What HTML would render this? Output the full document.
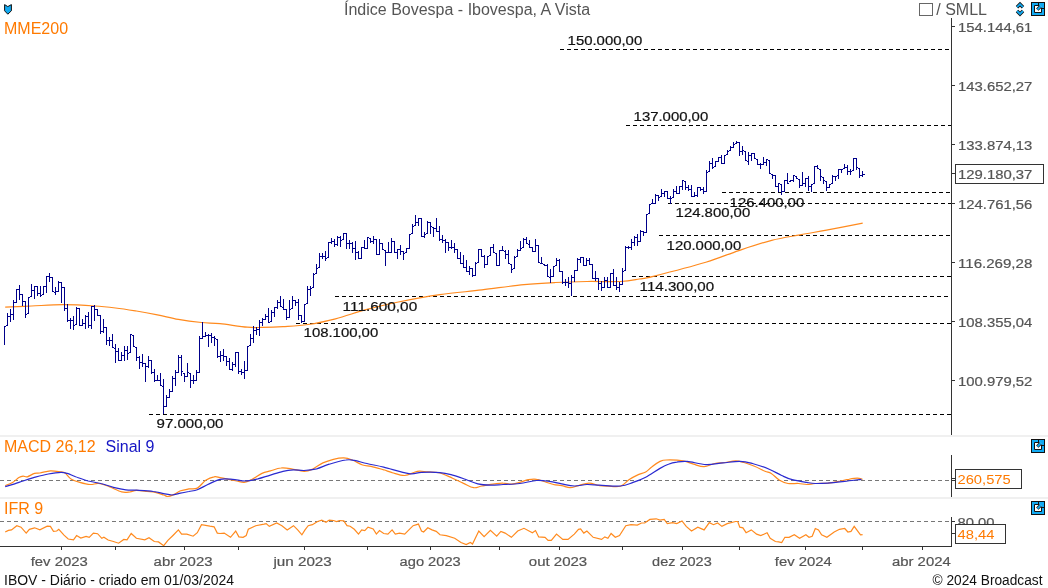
<!DOCTYPE html>
<html><head><meta charset="utf-8"><style>
html,body{margin:0;padding:0;background:#fff;width:1048px;height:588px;overflow:hidden}
svg{display:block;font-family:"Liberation Sans", sans-serif;will-change:transform}
</style></head><body>
<svg width="1048" height="588" viewBox="0 0 1048 588">
<rect x="0" y="435" width="1048" height="2" fill="#f0f0f0"/>
<rect x="0" y="497" width="1048" height="2" fill="#f0f0f0"/>
<text x="344" y="14.6" font-size="16" fill="#555">Índice Bovespa - Ibovespa, A Vista</text>
<text x="4.0" y="34" font-size="16" fill="#ff7a00">MME200</text>
<rect x="919.5" y="3.5" width="13" height="12" fill="none" stroke="#666" stroke-width="1"/>
<text x="936.3" y="15" font-size="16" fill="#555">/ SMLL</text>
<path d="M951.5 18 V435" stroke="#333" stroke-width="1" fill="none"/>
<path d="M951 26.5 H955" stroke="#333" stroke-width="1"/>
<text x="958" y="31.9" font-size="12.5" fill="#555" textLength="74.3" lengthAdjust="spacingAndGlyphs" stroke="#555" stroke-width="0.2">154.144,61</text>
<path d="M951 85.5 H955" stroke="#333" stroke-width="1"/>
<text x="958" y="90.9" font-size="12.5" fill="#555" textLength="74.3" lengthAdjust="spacingAndGlyphs" stroke="#555" stroke-width="0.2">143.652,27</text>
<path d="M951 144.5 H955" stroke="#333" stroke-width="1"/>
<text x="958" y="149.9" font-size="12.5" fill="#555" textLength="74.3" lengthAdjust="spacingAndGlyphs" stroke="#555" stroke-width="0.2">133.874,13</text>
<path d="M951 203.5 H955" stroke="#333" stroke-width="1"/>
<text x="958" y="208.8" font-size="12.5" fill="#555" textLength="74.3" lengthAdjust="spacingAndGlyphs" stroke="#555" stroke-width="0.2">124.761,56</text>
<path d="M951 262.5 H955" stroke="#333" stroke-width="1"/>
<text x="958" y="267.8" font-size="12.5" fill="#555" textLength="74.3" lengthAdjust="spacingAndGlyphs" stroke="#555" stroke-width="0.2">116.269,28</text>
<path d="M951 321.5 H955" stroke="#333" stroke-width="1"/>
<text x="958" y="326.8" font-size="12.5" fill="#555" textLength="74.3" lengthAdjust="spacingAndGlyphs" stroke="#555" stroke-width="0.2">108.355,04</text>
<path d="M951 380.5 H955" stroke="#333" stroke-width="1"/>
<text x="958" y="385.8" font-size="12.5" fill="#555" textLength="74.3" lengthAdjust="spacingAndGlyphs" stroke="#555" stroke-width="0.2">100.979,52</text>
<path d="M560 49.5 H951" stroke="#000" stroke-width="1" stroke-dasharray="4 3"/>
<path d="M626 125.5 H951" stroke="#000" stroke-width="1" stroke-dasharray="4 3"/>
<path d="M722 192.5 H951" stroke="#000" stroke-width="1" stroke-dasharray="4 3"/>
<path d="M668 203.5 H951" stroke="#000" stroke-width="1" stroke-dasharray="4 3"/>
<path d="M659 235.5 H951" stroke="#000" stroke-width="1" stroke-dasharray="4 3"/>
<path d="M632 276.5 H951" stroke="#000" stroke-width="1" stroke-dasharray="4 3"/>
<path d="M335 296.5 H951" stroke="#000" stroke-width="1" stroke-dasharray="4 3"/>
<path d="M296 323.5 H951" stroke="#000" stroke-width="1" stroke-dasharray="4 3"/>
<path d="M149 414.5 H951" stroke="#000" stroke-width="1" stroke-dasharray="4 3"/>
<path d="M5.2 307.2 C9.6 307.0 21.9 306.4 31.5 306.0 C41.1 305.6 52.5 304.7 63.0 304.7 C73.5 304.7 85.8 305.4 94.5 306.0 C103.2 306.6 108.5 307.2 115.5 308.0 C122.5 308.8 129.4 309.9 136.4 311.0 C143.4 312.1 150.4 313.4 157.4 314.8 C164.4 316.2 171.1 318.1 178.4 319.4 C185.8 320.7 194.6 321.8 201.5 322.5 C208.4 323.2 212.4 322.9 220.0 323.7 C227.6 324.5 240.3 326.6 247.3 327.2 C254.3 327.8 256.1 327.5 262.0 327.4 C267.9 327.3 275.3 327.1 283.0 326.6 C290.7 326.1 299.2 325.8 308.0 324.5 C316.8 323.2 325.7 321.3 335.5 318.8 C345.3 316.3 356.5 312.2 367.0 309.4 C377.5 306.6 386.2 304.4 398.4 302.0 C410.6 299.6 426.1 296.7 440.0 294.7 C453.9 292.7 468.0 291.6 482.0 289.9 C496.0 288.2 511.8 285.8 524.0 284.6 C536.2 283.4 544.9 283.0 555.4 282.5 C565.9 282.0 576.1 281.7 587.0 281.5 C597.9 281.3 611.8 281.9 620.5 281.5 C629.2 281.1 633.9 279.9 639.4 279.0 C644.9 278.1 642.1 279.1 653.2 276.3 C664.3 273.5 691.5 266.5 705.8 262.2 C720.1 257.9 727.8 254.2 738.8 250.6 C749.8 246.9 761.5 242.9 771.7 240.3 C781.9 237.7 791.1 236.5 800.2 234.8 C809.3 233.1 816.1 232.1 826.5 230.2 C836.9 228.3 856.7 224.4 862.7 223.2" fill="none" stroke="#ff8a1e" stroke-width="1.2"/>
<path d="M4.5 326 V345 M5 326.5 H6 M7.5 313 V326 M6 325.5 H7 M8 316.5 H9 M10.5 309 V322 M9 316.5 H10 M11 314.5 H12 M13.5 300 V320 M12 314.5 H13 M14 302.5 H15 M16.5 289 V303 M15 302.5 H16 M17 289.5 H18 M19.5 285 V300 M18 289.5 H19 M20 294.5 H21 M22.5 294 V306 M21 294.5 H22 M23 301.5 H24 M25.5 301 V318 M24 301.5 H25 M26 314.5 H27 M28.5 297 V314 M27 313.5 H28 M29 297.5 H30 M31.5 284 V297 M30 296.5 H31 M32 290.5 H33 M34.5 286 V299 M33 290.5 H34 M35 286.5 H36 M37.5 286 V296 M36 286.5 H37 M38 293.5 H39 M40.5 286 V297 M39 293.5 H40 M41 295.5 H42 M43.5 286 V295 M42 294.5 H43 M44 286.5 H45 M46.5 276 V293 M45 286.5 H46 M47 276.5 H48 M49.5 273 V282 M48 276.5 H49 M50 277.5 H51 M52.5 277 V292 M51 277.5 H52 M53 291.5 H54 M55.5 287 V295 M54 292.5 H55 M56 291.5 H57 M58.5 281 V292 M57 291.5 H58 M59 282.5 H60 M61.5 282 V303 M60 282.5 H61 M62 287.5 H63 M64.5 287 V311 M63 287.5 H64 M65 308.5 H66 M67.5 304 V322 M66 308.5 H67 M68 320.5 H69 M70.5 318 V329 M69 320.5 H70 M71 320.5 H72 M73.5 316 V330 M72 320.5 H73 M74 325.5 H75 M76.5 307 V325 M75 324.5 H76 M77 308.5 H78 M79.5 308 V326 M78 308.5 H79 M80 325.5 H81 M82.5 319 V326 M81 325.5 H82 M83 323.5 H84 M85.5 315 V329 M84 323.5 H85 M86 316.5 H87 M88.5 312 V328 M87 316.5 H88 M89 325.5 H90 M91.5 306 V329 M90 325.5 H91 M92 306.5 H93 M94.5 305 V321 M93 306.5 H94 M95 309.5 H96 M97.5 309 V316 M96 309.5 H97 M98 315.5 H99 M100.5 315 V334 M99 315.5 H100 M101 331.5 H102 M103.5 319 V333 M102 331.5 H103 M104 327.5 H105 M106.5 327 V345 M105 327.5 H106 M107 340.5 H108 M109.5 337 V346 M108 340.5 H109 M110 340.5 H111 M112.5 334 V348 M111 340.5 H112 M113 347.5 H114 M115.5 344 V363 M114 348.5 H115 M116 351.5 H117 M118.5 348 V361 M117 351.5 H118 M119 360.5 H120 M121.5 352 V361 M120 360.5 H121 M122 355.5 H123 M124.5 346 V361 M123 355.5 H124 M125 350.5 H126 M127.5 346 V360 M126 350.5 H127 M128 353.5 H129 M130.5 334 V353 M129 352.5 H130 M131 334.5 H132 M133.5 335 V347 M132 335.5 H133 M134 346.5 H135 M136.5 347 V361 M135 347.5 H136 M137 357.5 H138 M139.5 356 V369 M138 357.5 H139 M140 362.5 H141 M142.5 354 V367 M141 362.5 H142 M143 363.5 H144 M145.5 363 V382 M144 363.5 H145 M146 366.5 H147 M148.5 356 V368 M147 366.5 H148 M149 360.5 H150 M151.5 360 V374 M150 360.5 H151 M152 372.5 H153 M154.5 369 V382 M153 372.5 H154 M155 380.5 H156 M157.5 375 V381 M156 380.5 H157 M158 380.5 H159 M160.5 373 V386 M159 380.5 H160 M161 385.5 H162 M163.5 379 V414 M162 386.5 H163 M164 406.5 H165 M166.5 395 V407 M165 406.5 H166 M167 397.5 H168 M169.5 389 V398 M168 397.5 H169 M170 391.5 H171 M172.5 376 V392 M171 391.5 H172 M173 378.5 H174 M175.5 370 V386 M174 378.5 H175 M176 372.5 H177 M178.5 355 V373 M177 372.5 H178 M179 357.5 H180 M181.5 355 V376 M180 357.5 H181 M182 371.5 H183 M184.5 373 V382 M183 373.5 H184 M185 376.5 H186 M187.5 363 V377 M186 376.5 H187 M188 372.5 H189 M190.5 373 V388 M189 373.5 H190 M191 380.5 H192 M193.5 375 V384 M192 380.5 H193 M194 380.5 H195 M196.5 370 V381 M195 380.5 H196 M197 372.5 H198 M199.5 336 V373 M198 372.5 H199 M200 338.5 H201 M202.5 322 V339 M201 338.5 H202 M203 336.5 H204 M205.5 332 V337 M204 336.5 H205 M206 335.5 H207 M208.5 334 V347 M207 335.5 H208 M209 335.5 H210 M211.5 333 V343 M210 335.5 H211 M212 337.5 H213 M214.5 336 V346 M213 337.5 H214 M215 338.5 H216 M217.5 339 V358 M216 339.5 H217 M218 356.5 H219 M220.5 351 V362 M219 356.5 H220 M221 355.5 H222 M223.5 349 V361 M222 355.5 H223 M224 356.5 H225 M226.5 356 V366 M225 356.5 H226 M227 361.5 H228 M229.5 358 V370 M228 361.5 H229 M230 369.5 H231 M232.5 362 V371 M231 369.5 H232 M233 364.5 H234 M235.5 352 V367 M234 364.5 H235 M236 352.5 H237 M238.5 352 V374 M237 352.5 H238 M239 371.5 H240 M241.5 369 V375 M240 371.5 H241 M242 372.5 H243 M244.5 361 V379 M243 372.5 H244 M245 370.5 H246 M247.5 346 V371 M246 370.5 H247 M248 346.5 H249 M250.5 334 V346 M249 345.5 H250 M251 338.5 H252 M253.5 326 V343 M252 338.5 H253 M254 330.5 H255 M256.5 327 V335 M255 330.5 H256 M257 329.5 H258 M259.5 320 V336 M258 329.5 H259 M260 322.5 H261 M262.5 318 V326 M261 322.5 H262 M263 319.5 H264 M265.5 314 V320 M264 319.5 H265 M266 316.5 H267 M268.5 308 V323 M267 316.5 H268 M269 322.5 H270 M271.5 310 V322 M270 321.5 H271 M272 312.5 H273 M274.5 307 V317 M273 312.5 H274 M275 307.5 H276 M277.5 300 V309 M276 307.5 H277 M278 302.5 H279 M280.5 296 V307 M279 302.5 H280 M281 306.5 H282 M283.5 299 V310 M282 307.5 H283 M284 309.5 H285 M286.5 309 V320 M285 309.5 H286 M287 317.5 H288 M289.5 300 V318 M288 317.5 H289 M290 309.5 H291 M292.5 296 V309 M291 308.5 H292 M293 300.5 H294 M295.5 300 V306 M294 300.5 H295 M296 302.5 H297 M298.5 299 V320 M297 302.5 H298 M299 315.5 H300 M301.5 315 V323 M300 315.5 H301 M302 321.5 H303 M304.5 304 V322 M303 321.5 H304 M305 304.5 H306 M307.5 286 V304 M306 303.5 H307 M308 289.5 H309 M310.5 286 V296 M309 289.5 H310 M311 288.5 H312 M313.5 273 V288 M312 287.5 H313 M314 274.5 H315 M316.5 264 V274 M315 273.5 H316 M317 268.5 H318 M319.5 253 V268 M318 267.5 H319 M320 256.5 H321 M322.5 253 V259 M321 256.5 H322 M323 256.5 H324 M325.5 251 V261 M324 256.5 H325 M326 258.5 H327 M328.5 242 V258 M327 257.5 H328 M329 242.5 H330 M331.5 238 V244 M330 242.5 H331 M332 241.5 H333 M334.5 239 V247 M333 241.5 H334 M335 244.5 H336 M337.5 236 V246 M336 244.5 H337 M338 237.5 H339 M340.5 236 V247 M339 237.5 H340 M341 240.5 H342 M343.5 233 V240 M342 239.5 H343 M344 233.5 H345 M346.5 233 V249 M345 233.5 H346 M347 243.5 H348 M349.5 240 V249 M348 243.5 H349 M350 243.5 H351 M352.5 242 V253 M351 243.5 H352 M353 248.5 H354 M355.5 241 V260 M354 248.5 H355 M356 252.5 H357 M358.5 251 V259 M357 252.5 H358 M359 258.5 H360 M361.5 247 V259 M360 258.5 H361 M362 247.5 H363 M364.5 240 V249 M363 247.5 H364 M365 248.5 H366 M367.5 237 V249 M366 248.5 H367 M368 237.5 H369 M370.5 238 V243 M369 238.5 H370 M371 241.5 H372 M373.5 236 V244 M372 241.5 H373 M374 239.5 H375 M376.5 239 V255 M375 239.5 H376 M377 254.5 H378 M379.5 239 V255 M378 254.5 H379 M380 243.5 H381 M382.5 243 V250 M381 243.5 H382 M383 249.5 H384 M385.5 250 V266 M384 250.5 H385 M386 252.5 H387 M388.5 242 V253 M387 252.5 H388 M389 252.5 H390 M391.5 238 V253 M390 252.5 H391 M392 241.5 H393 M394.5 241 V253 M393 241.5 H394 M395 252.5 H396 M397.5 249 V259 M396 252.5 H397 M398 249.5 H399 M400.5 245 V255 M399 249.5 H400 M401 251.5 H402 M403.5 251 V260 M402 251.5 H403 M404 253.5 H405 M406.5 248 V253 M405 252.5 H406 M407 248.5 H408 M409.5 234 V249 M408 248.5 H409 M410 234.5 H411 M412.5 224 V234 M411 233.5 H412 M413 226.5 H414 M415.5 215 V226 M414 225.5 H415 M416 222.5 H417 M418.5 218 V226 M417 222.5 H418 M419 218.5 H420 M421.5 218 V237 M420 218.5 H421 M422 236.5 H423 M424.5 232 V238 M423 236.5 H424 M425 234.5 H426 M427.5 221 V234 M426 233.5 H427 M428 222.5 H429 M430.5 222 V234 M429 222.5 H430 M431 226.5 H432 M433.5 227 V237 M432 227.5 H433 M434 228.5 H435 M436.5 218 V232 M435 228.5 H436 M437 231.5 H438 M439.5 226 V241 M438 231.5 H439 M440 239.5 H441 M442.5 235 V243 M441 239.5 H442 M443 240.5 H444 M445.5 239 V253 M444 240.5 H445 M446 242.5 H447 M448.5 242 V251 M447 242.5 H448 M449 247.5 H450 M451.5 240 V249 M450 247.5 H451 M452 247.5 H453 M454.5 243 V253 M453 247.5 H454 M455 249.5 H456 M457.5 249 V259 M456 249.5 H457 M458 258.5 H459 M460.5 252 V264 M459 258.5 H460 M461 263.5 H462 M463.5 255 V268 M462 263.5 H463 M464 267.5 H465 M466.5 260 V272 M465 267.5 H466 M467 271.5 H468 M469.5 266 V275 M468 271.5 H469 M470 268.5 H471 M472.5 268 V277 M471 268.5 H472 M473 275.5 H474 M475.5 262 V276 M474 275.5 H475 M476 263.5 H477 M478.5 249 V263 M477 262.5 H478 M479 249.5 H480 M481.5 249 V257 M480 249.5 H481 M482 256.5 H483 M484.5 255 V268 M483 256.5 H484 M485 264.5 H486 M487.5 256 V265 M486 264.5 H487 M488 256.5 H489 M490.5 247 V256 M489 255.5 H490 M491 247.5 H492 M493.5 244 V253 M492 247.5 H493 M494 252.5 H495 M496.5 253 V266 M495 253.5 H496 M497 265.5 H498 M499.5 250 V266 M498 265.5 H499 M500 250.5 H501 M502.5 246 V251 M501 250.5 H502 M503 250.5 H504 M505.5 250 V259 M504 251.5 H505 M506 254.5 H507 M508.5 250 V264 M507 254.5 H508 M509 263.5 H510 M511.5 264 V273 M510 264.5 H511 M512 269.5 H513 M514.5 256 V269 M513 268.5 H514 M515 257.5 H516 M517.5 249 V257 M516 256.5 H517 M518 250.5 H519 M520.5 241 V251 M519 250.5 H520 M521 248.5 H522 M523.5 238 V248 M522 247.5 H523 M524 239.5 H525 M526.5 237 V244 M525 239.5 H526 M527 243.5 H528 M529.5 240 V248 M528 244.5 H529 M530 247.5 H531 M532.5 247 V252 M531 247.5 H532 M533 251.5 H534 M535.5 239 V252 M534 251.5 H535 M536 245.5 H537 M538.5 245 V263 M537 245.5 H538 M539 262.5 H540 M541.5 257 V264 M540 263.5 H541 M542 263.5 H543 M544.5 264 V266 M543 264.5 H544 M545 265.5 H546 M547.5 264 V277 M546 265.5 H547 M548 276.5 H549 M550.5 269 V283 M549 277.5 H550 M551 276.5 H552 M553.5 266 V277 M552 276.5 H553 M554 266.5 H555 M556.5 258 V266 M555 265.5 H556 M557 260.5 H558 M559.5 259 V272 M558 260.5 H559 M560 271.5 H561 M562.5 271 V284 M561 271.5 H562 M563 282.5 H564 M565.5 279 V286 M564 282.5 H565 M566 282.5 H567 M568.5 277 V288 M567 282.5 H568 M569 283.5 H570 M571.5 275 V296 M570 283.5 H571 M572 277.5 H573 M574.5 270 V282 M573 277.5 H574 M575 270.5 H576 M577.5 258 V271 M576 270.5 H577 M578 259.5 H579 M580.5 257 V263 M579 259.5 H580 M581 257.5 H582 M583.5 257 V266 M582 257.5 H583 M584 265.5 H585 M586.5 258 V266 M585 265.5 H586 M587 260.5 H588 M589.5 258 V265 M588 260.5 H589 M590 264.5 H591 M592.5 264 V279 M591 264.5 H592 M593 278.5 H594 M595.5 271 V281 M594 278.5 H595 M596 278.5 H597 M598.5 278 V290 M597 278.5 H598 M599 283.5 H600 M601.5 281 V291 M600 283.5 H601 M602 287.5 H603 M604.5 277 V288 M603 287.5 H604 M605 280.5 H606 M607.5 277 V288 M606 280.5 H607 M608 287.5 H609 M610.5 273 V288 M609 287.5 H610 M611 273.5 H612 M613.5 269 V286 M612 273.5 H613 M614 285.5 H615 M616.5 277 V290 M615 285.5 H616 M617 287.5 H618 M619.5 282 V292 M618 287.5 H619 M620 284.5 H621 M622.5 268 V285 M621 284.5 H622 M623 271.5 H624 M625.5 246 V271 M624 270.5 H625 M626 247.5 H627 M628.5 246 V249 M627 247.5 H628 M629 247.5 H630 M631.5 239 V250 M630 247.5 H631 M632 242.5 H633 M634.5 236 V246 M633 242.5 H634 M635 237.5 H636 M637.5 234 V246 M636 237.5 H637 M638 241.5 H639 M640.5 230 V242 M639 241.5 H640 M641 231.5 H642 M643.5 231 V236 M642 231.5 H643 M644 232.5 H645 M646.5 214 V233 M645 232.5 H646 M647 214.5 H648 M649.5 204 V214 M648 213.5 H649 M650 204.5 H651 M652.5 199 V204 M651 203.5 H652 M653 203.5 H654 M655.5 194 V204 M654 203.5 H655 M656 195.5 H657 M658.5 195 V201 M657 195.5 H658 M659 197.5 H660 M661.5 189 V197 M660 196.5 H661 M662 193.5 H663 M664.5 191 V197 M663 193.5 H664 M665 191.5 H666 M667.5 191 V199 M666 191.5 H667 M668 198.5 H669 M670.5 196 V204 M669 198.5 H670 M671 198.5 H672 M673.5 189 V198 M672 197.5 H673 M674 191.5 H675 M676.5 186 V194 M675 191.5 H676 M677 193.5 H678 M679.5 186 V194 M678 193.5 H679 M680 186.5 H681 M682.5 180 V190 M681 186.5 H682 M683 180.5 H684 M685.5 181 V190 M684 181.5 H685 M686 187.5 H687 M688.5 185 V191 M687 187.5 H688 M689 189.5 H690 M691.5 185 V197 M690 189.5 H691 M692 196.5 H693 M694.5 192 V197 M693 196.5 H694 M695 195.5 H696 M697.5 187 V197 M696 195.5 H697 M698 187.5 H699 M700.5 187 V191 M699 187.5 H700 M701 189.5 H702 M703.5 187 V194 M702 189.5 H703 M704 191.5 H705 M706.5 170 V192 M705 191.5 H706 M707 172.5 H708 M709.5 161 V172 M708 171.5 H709 M710 163.5 H711 M712.5 158 V169 M711 163.5 H712 M713 167.5 H714 M715.5 161 V167 M714 166.5 H715 M716 161.5 H717 M718.5 157 V162 M717 161.5 H718 M719 157.5 H720 M721.5 155 V164 M720 157.5 H721 M722 163.5 H723 M724.5 155 V164 M723 163.5 H724 M725 155.5 H726 M727.5 150 V155 M726 154.5 H727 M728 151.5 H729 M730.5 146 V151 M729 150.5 H730 M731 147.5 H732 M733.5 142 V148 M732 147.5 H733 M734 144.5 H735 M736.5 141 V144 M735 143.5 H736 M737 142.5 H738 M739.5 142 V156 M738 142.5 H739 M740 151.5 H741 M742.5 146 V155 M741 151.5 H742 M743 150.5 H744 M745.5 151 V161 M744 151.5 H745 M746 160.5 H747 M748.5 152 V165 M747 161.5 H748 M749 155.5 H750 M751.5 153 V161 M750 155.5 H751 M752 153.5 H753 M754.5 153 V159 M753 153.5 H754 M755 158.5 H756 M757.5 159 V165 M756 159.5 H757 M758 164.5 H759 M760.5 163 V169 M759 164.5 H760 M761 164.5 H762 M763.5 157 V165 M762 164.5 H763 M764 162.5 H765 M766.5 159 V166 M765 162.5 H766 M767 159.5 H768 M769.5 160 V174 M768 160.5 H769 M770 173.5 H771 M772.5 174 V179 M771 174.5 H772 M773 175.5 H774 M775.5 175 V187 M774 175.5 H775 M776 186.5 H777 M778.5 183 V192 M777 186.5 H778 M779 183.5 H780 M781.5 184 V195 M780 184.5 H781 M782 191.5 H783 M784.5 180 V192 M783 191.5 H784 M785 180.5 H786 M787.5 173 V184 M786 180.5 H787 M788 183.5 H789 M790.5 180 V182 M789 181.5 H790 M791 180.5 H792 M793.5 175 V182 M792 180.5 H793 M794 175.5 H795 M796.5 176 V179 M795 176.5 H796 M797 178.5 H798 M799.5 179 V188 M798 179.5 H799 M800 185.5 H801 M802.5 172 V186 M801 185.5 H802 M803 183.5 H804 M805.5 178 V187 M804 183.5 H805 M806 178.5 H807 M808.5 176 V191 M807 178.5 H808 M809 186.5 H810 M811.5 184 V192 M810 186.5 H811 M812 184.5 H813 M814.5 166 V184 M813 183.5 H814 M815 166.5 H816 M817.5 165 V169 M816 166.5 H817 M818 168.5 H819 M820.5 169 V181 M819 169.5 H820 M821 176.5 H822 M823.5 177 V184 M822 177.5 H823 M824 180.5 H825 M826.5 181 V191 M825 181.5 H826 M827 187.5 H828 M829.5 184 V188 M828 187.5 H829 M830 184.5 H831 M832.5 175 V184 M831 183.5 H832 M833 176.5 H834 M835.5 176 V181 M834 176.5 H835 M836 176.5 H837 M838.5 169 V179 M837 175.5 H838 M839 169.5 H840 M841.5 169 V173 M840 169.5 H841 M842 169.5 H843 M844.5 164 V169 M843 168.5 H844 M845 167.5 H846 M847.5 165 V175 M846 167.5 H847 M848 171.5 H849 M850.5 169 V175 M849 171.5 H850 M851 171.5 H852 M853.5 158 V171 M852 170.5 H853 M854 158.5 H855 M856.5 158 V170 M855 158.5 H856 M857 167.5 H858 M859.5 168 V178 M858 168.5 H859 M860 175.5 H861 M862.5 171 V177 M861 175.5 H862 M863 174.5 H865" stroke="#00008a" stroke-width="1" fill="none"/>
<text x="567.6" y="45.3" font-size="12.5" fill="#111" textLength="74.6" lengthAdjust="spacingAndGlyphs" stroke="#111" stroke-width="0.2">150.000,00</text>
<text x="633.6" y="121.2" font-size="12.5" fill="#111" textLength="74.6" lengthAdjust="spacingAndGlyphs" stroke="#111" stroke-width="0.2">137.000,00</text>
<text x="729.6" y="206.7" font-size="12.5" fill="#111" textLength="74.6" lengthAdjust="spacingAndGlyphs" stroke="#111" stroke-width="0.2">126.400,00</text>
<text x="675.6" y="217.4" font-size="12.5" fill="#111" textLength="74.6" lengthAdjust="spacingAndGlyphs" stroke="#111" stroke-width="0.2">124.800,00</text>
<text x="666.6" y="250.2" font-size="12.5" fill="#111" textLength="74.6" lengthAdjust="spacingAndGlyphs" stroke="#111" stroke-width="0.2">120.000,00</text>
<text x="639.6" y="290.9" font-size="12.5" fill="#111" textLength="74.6" lengthAdjust="spacingAndGlyphs" stroke="#111" stroke-width="0.2">114.300,00</text>
<text x="342.6" y="310.9" font-size="12.5" fill="#111" textLength="74.6" lengthAdjust="spacingAndGlyphs" stroke="#111" stroke-width="0.2">111.600,00</text>
<text x="303.6" y="336.6" font-size="12.5" fill="#111" textLength="74.6" lengthAdjust="spacingAndGlyphs" stroke="#111" stroke-width="0.2">108.100,00</text>
<text x="156.6" y="428.2" font-size="12.5" fill="#111" textLength="66.8" lengthAdjust="spacingAndGlyphs" stroke="#111" stroke-width="0.2">97.000,00</text>
<rect x="955.5" y="164.5" width="88" height="19" fill="#fff" stroke="#333" stroke-width="1"/>
<path d="M951 173.5 H955" stroke="#333" stroke-width="1"/>
<text x="958" y="179.2" font-size="12.5" fill="#555" textLength="74.3" lengthAdjust="spacingAndGlyphs" stroke="#555" stroke-width="0.2">129.180,37</text>
<text x="4.0" y="452.3" font-size="16" fill="#ff7a00">MACD 26,12</text>
<text x="105.6" y="452.3" font-size="16" fill="#1414c4">Sinal 9</text>
<path d="M951.5 455 V497" stroke="#333" stroke-width="1"/>
<path d="M0 480.5 H949" stroke="#777" stroke-width="1" stroke-dasharray="4 3"/>
<path d="M5.2 485.6 C6.5 485.1 10.3 483.8 12.6 482.4 C14.9 481.1 17.1 478.7 18.9 477.6 C20.6 476.6 21.7 476.3 23.1 476.1 C24.5 476.0 25.4 477.2 27.3 476.8 C29.2 476.3 32.5 474.0 34.6 473.4 C36.7 472.8 37.3 473.4 39.9 473.0 C42.5 472.6 46.9 471.1 50.4 470.9 C53.9 470.7 58.4 471.6 60.9 471.9 C63.3 472.3 63.3 471.8 65.1 473.0 C66.8 474.2 68.9 477.7 71.4 479.3 C73.8 480.9 76.6 481.6 79.8 482.4 C82.9 483.3 87.1 484.4 90.3 484.5 C93.4 484.7 95.5 483.1 98.7 483.5 C101.8 483.8 105.3 485.2 109.2 486.6 C113.0 488.0 118.2 491.0 121.7 491.9 C125.2 492.8 127.7 492.1 130.1 491.9 C132.6 491.6 133.6 490.5 136.4 490.4 C139.2 490.3 143.8 491.1 146.9 491.5 C150.1 491.8 152.5 491.7 155.3 492.3 C158.1 492.9 161.6 494.3 163.7 495.0 C165.8 495.7 166.2 496.6 167.9 496.5 C169.7 496.4 172.1 495.3 174.2 494.4 C176.3 493.5 178.1 491.7 180.5 490.8 C183.0 489.9 186.1 489.4 188.9 488.9 C191.7 488.5 194.5 489.5 197.3 488.1 C200.1 486.7 202.9 482.2 205.7 480.3 C208.5 478.4 211.7 477.2 214.1 476.8 C216.5 476.3 217.6 477.2 220.0 477.6 C222.4 478.0 225.6 478.7 228.4 479.3 C231.2 479.8 234.2 480.4 236.8 481.0 C239.4 481.5 241.7 482.6 244.1 482.4 C246.6 482.2 248.5 481.2 251.5 479.7 C254.5 478.2 258.8 474.9 262.0 473.4 C265.1 471.9 267.2 471.8 270.4 470.9 C273.5 470.0 277.4 468.3 280.9 468.0 C284.4 467.6 287.5 468.2 291.4 468.8 C295.2 469.4 300.5 471.2 304.0 471.3 C307.5 471.4 309.2 470.6 312.4 469.2 C315.5 467.8 319.4 464.6 322.9 462.9 C326.4 461.3 329.9 460.2 333.4 459.3 C336.8 458.5 340.7 457.8 343.8 457.9 C347.0 458.0 349.1 458.8 352.2 460.0 C355.4 461.2 359.6 464.0 362.7 465.0 C365.9 466.1 367.6 465.5 371.1 466.3 C374.6 467.1 380.2 468.8 383.7 469.8 C387.2 470.9 388.6 471.6 392.1 472.6 C395.6 473.5 400.5 475.7 404.7 475.5 C408.9 475.3 413.5 471.9 417.3 471.3 C421.2 470.7 424.0 471.7 427.8 471.9 C431.6 472.2 435.9 471.9 440.0 473.0 C444.1 474.0 448.7 476.6 452.6 478.2 C456.4 479.9 459.6 481.5 463.1 483.1 C466.6 484.6 470.4 487.2 473.6 487.7 C476.7 488.2 478.5 486.6 482.0 486.0 C485.5 485.4 491.1 484.4 494.6 483.9 C498.1 483.4 500.2 483.0 503.0 483.1 C505.8 483.1 508.6 484.2 511.4 484.1 C514.2 484.0 517.0 483.2 519.8 482.4 C522.6 481.7 525.4 480.2 528.2 479.7 C531.0 479.2 533.8 478.9 536.6 479.3 C539.4 479.6 542.2 480.9 545.0 481.8 C547.8 482.7 550.6 483.9 553.4 484.5 C556.1 485.2 558.9 485.1 561.7 485.6 C564.5 486.1 567.3 487.7 570.1 487.7 C572.9 487.7 575.4 486.4 578.5 485.6 C581.7 484.8 585.5 483.1 589.0 483.1 C592.5 483.1 596.4 485.1 599.5 485.6 C602.7 486.1 604.4 486.1 607.9 486.2 C611.4 486.3 617.0 487.3 620.5 486.2 C624.0 485.1 626.1 481.6 628.9 479.7 C631.7 477.9 634.5 476.4 637.3 475.1 C640.1 473.8 643.3 473.3 645.7 471.9 C648.2 470.5 649.6 468.4 652.0 466.7 C654.4 464.9 657.6 462.6 660.0 461.4 C662.4 460.3 662.4 460.1 666.3 460.0 C670.1 459.9 678.5 460.1 683.1 460.8 C687.6 461.5 690.1 463.2 693.6 464.2 C697.1 465.2 700.6 466.8 704.1 466.7 C707.6 466.6 711.1 464.2 714.6 463.5 C718.1 462.8 721.6 463.0 725.1 462.5 C728.6 462.0 732.4 460.8 735.6 460.8 C738.7 460.8 740.8 461.6 744.0 462.5 C747.1 463.4 751.0 464.8 754.5 466.3 C758.0 467.7 762.2 470.1 765.0 471.3 C767.8 472.5 768.8 471.9 771.3 473.4 C773.7 474.9 776.8 478.7 779.6 480.3 C782.4 482.0 784.9 483.0 788.0 483.5 C791.2 484.0 795.4 483.3 798.5 483.5 C801.7 483.7 804.1 484.5 806.9 484.5 C809.7 484.5 811.8 483.7 815.3 483.5 C818.8 483.2 823.7 483.5 827.9 483.1 C832.1 482.6 837.0 481.6 840.5 481.0 C844.0 480.3 846.1 479.7 848.9 479.3 C851.7 478.8 855.0 478.2 857.3 478.2 C859.6 478.2 861.7 479.1 862.6 479.3" fill="none" stroke="#ff8a1e" stroke-width="1.2"/>
<path d="M5.2 486.6 C6.8 486.2 11.7 484.9 14.7 483.9 C17.7 483.0 19.9 482.0 23.1 481.0 C26.2 479.9 29.4 478.8 33.6 477.6 C37.8 476.5 43.7 474.9 48.3 474.0 C52.8 473.2 57.7 472.5 60.9 472.4 C64.0 472.3 64.7 472.7 67.2 473.4 C69.6 474.1 72.1 475.5 75.6 476.8 C79.1 478.0 84.0 479.8 88.2 481.0 C92.4 482.1 96.6 482.4 100.8 483.5 C105.0 484.5 109.2 486.2 113.4 487.3 C117.5 488.3 122.1 489.3 125.9 489.8 C129.8 490.3 131.9 489.9 136.4 490.2 C141.0 490.5 148.7 490.9 153.2 491.5 C157.8 492.0 160.6 493.0 163.7 493.6 C166.9 494.2 169.3 495.1 172.1 495.0 C174.9 495.0 177.7 493.7 180.5 493.1 C183.3 492.5 186.1 492.0 188.9 491.5 C191.7 490.9 194.2 490.9 197.3 489.8 C200.5 488.6 204.0 486.3 207.8 484.5 C211.6 482.8 215.9 480.2 220.0 479.3 C224.1 478.4 228.4 479.0 232.6 479.3 C236.8 479.6 241.0 481.0 245.2 481.0 C249.4 480.9 253.6 479.8 257.8 478.9 C262.0 477.9 266.2 476.3 270.4 475.1 C274.6 473.8 279.1 472.2 283.0 471.3 C286.8 470.4 290.0 470.0 293.5 469.8 C297.0 469.7 300.1 470.6 304.0 470.5 C307.8 470.3 312.4 469.8 316.6 468.8 C320.8 467.7 324.3 465.6 329.2 464.2 C334.0 462.7 341.7 460.6 345.9 460.0 C350.1 459.3 350.8 459.8 354.3 460.4 C357.8 461.0 362.0 462.4 366.9 463.5 C371.8 464.7 376.7 465.4 383.7 467.1 C390.7 468.8 402.6 472.7 408.9 473.6 C415.2 474.5 416.3 472.5 421.5 472.4 C426.7 472.2 434.8 472.1 440.0 472.6 C445.2 473.0 448.4 474.0 452.6 475.1 C456.8 476.2 461.0 477.8 465.2 479.3 C469.4 480.8 473.6 482.9 477.8 483.9 C482.0 484.9 486.2 485.1 490.4 485.2 C494.6 485.3 498.1 484.8 503.0 484.5 C507.9 484.3 514.2 484.2 519.8 483.5 C525.4 482.8 531.7 480.9 536.6 480.5 C541.5 480.2 545.0 480.8 549.2 481.4 C553.4 481.9 557.5 483.1 561.7 483.9 C565.9 484.7 570.1 485.9 574.3 486.0 C578.5 486.1 582.7 484.7 586.9 484.5 C591.1 484.4 593.9 484.9 599.5 485.2 C605.1 485.4 614.9 486.5 620.5 486.0 C626.1 485.6 628.9 483.9 633.1 482.4 C637.3 481.0 641.2 479.5 645.7 477.2 C650.2 474.8 656.2 470.5 660.0 468.4 C663.8 466.2 665.6 465.2 668.4 464.2 C671.2 463.1 673.6 462.5 676.8 462.1 C679.9 461.6 682.4 461.0 687.3 461.4 C692.2 461.9 700.2 464.3 706.2 464.6 C712.1 464.8 717.4 463.4 723.0 462.9 C728.6 462.4 734.9 461.3 739.8 461.4 C744.7 461.6 747.5 462.3 752.4 463.5 C757.3 464.8 764.3 467.2 769.2 469.2 C774.0 471.2 777.9 473.8 781.7 475.5 C785.6 477.3 788.0 478.6 792.2 479.7 C796.4 480.9 803.1 481.8 806.9 482.4 C810.8 483.1 811.8 483.4 815.3 483.5 C818.8 483.6 823.0 483.4 827.9 483.1 C832.8 482.7 839.1 482.0 844.7 481.4 C850.3 480.8 858.7 479.6 861.5 479.3" fill="none" stroke="#2a2ad0" stroke-width="1.2"/>
<rect x="955.5" y="469.5" width="66" height="19" fill="#fff" stroke="#333" stroke-width="1"/>
<path d="M951 478.5 H955 M951 480.5 H955" stroke="#333" stroke-width="1"/>
<text x="957.5" y="483.8" font-size="12.5" fill="#ff7a00" textLength="53.2" lengthAdjust="spacingAndGlyphs">260,575</text>
<text x="4.0" y="514" font-size="16" fill="#ff7a00">IFR 9</text>
<path d="M0 521.5 H949" stroke="#777" stroke-width="1" stroke-dasharray="4 3"/>
<polyline points="5.2,532.0 8.4,530.4 11.5,529.9 16.8,525.7 21.0,527.2 26.2,533.1 29.4,529.3 34.6,527.8 39.9,529.9 47.2,526.2 50.4,526.4 53.5,531.4 56.7,531.0 58.8,529.3 64.0,535.2 68.2,539.0 73.5,539.8 76.6,535.6 80.8,538.1 86.1,536.4 89.2,537.3 93.4,533.1 97.6,533.7 101.8,538.3 103.9,537.3 108.1,540.0 113.4,541.5 118.6,543.2 123.8,539.4 127.0,539.8 131.2,533.5 136.4,538.3 144.8,539.8 149.0,537.7 154.3,541.5 158.5,541.9 163.7,545.7 167.9,540.4 173.2,535.2 178.4,529.9 181.6,534.1 186.8,534.1 193.1,536.2 197.3,532.7 201.5,524.7 209.9,526.2 214.1,526.8 217.3,533.1 220.0,533.5 224.2,533.1 230.5,537.3 235.7,531.0 238.9,536.9 243.1,537.3 246.2,535.6 248.3,529.3 255.7,525.7 264.1,524.1 266.2,523.6 269.3,526.4 276.7,523.0 281.9,525.7 287.2,529.9 293.5,525.7 297.7,529.9 301.9,534.8 305.0,529.9 308.2,525.7 312.4,524.7 317.6,521.5 321.8,520.1 326.0,522.2 329.2,520.1 333.4,520.5 336.5,521.5 339.6,520.5 343.8,520.9 347.0,525.7 350.1,526.2 354.3,529.3 358.5,534.1 361.7,529.9 364.8,530.6 368.0,527.2 373.2,528.9 376.4,534.1 379.5,530.6 383.7,533.5 387.9,534.1 392.1,529.9 395.3,534.1 399.5,533.1 404.7,534.1 408.9,529.9 413.1,525.7 418.4,524.1 421.5,531.0 423.6,532.0 427.8,527.8 432.0,529.9 436.2,531.4 440.0,534.8 446.3,535.6 454.7,538.3 461.0,542.5 466.2,544.6 470.4,542.5 472.5,544.0 478.8,531.0 484.1,536.7 490.4,530.4 496.7,536.2 500.9,531.4 505.1,533.1 511.4,537.3 517.7,531.0 524.0,528.3 532.4,532.7 535.5,530.6 538.7,536.9 545.0,537.3 548.1,540.4 551.3,540.4 556.5,534.1 562.8,539.4 568.0,539.4 574.3,534.1 578.5,529.3 580.6,528.9 583.8,533.1 586.9,531.0 593.2,537.3 601.6,539.4 604.8,536.9 607.9,538.3 611.1,533.5 615.3,537.3 619.5,535.6 625.8,525.7 631.0,524.7 637.3,525.1 641.5,523.0 644.7,523.0 649.9,519.4 656.2,518.8 660.0,520.1 664.2,519.4 667.3,523.6 672.6,522.6 676.8,523.6 682.0,520.9 686.2,526.4 691.5,531.0 697.8,527.2 704.1,529.9 709.3,522.6 713.5,524.7 717.7,523.0 721.9,526.4 727.2,523.6 735.6,521.5 737.7,521.5 739.8,527.2 742.9,527.8 746.1,532.7 751.3,529.9 756.6,534.1 760.8,535.6 767.1,532.7 770.2,538.3 775.4,541.5 778.6,541.9 781.7,542.5 784.9,537.3 789.1,537.3 794.3,534.8 799.6,538.3 805.9,534.8 809.0,537.3 812.2,536.2 815.3,528.5 818.5,529.9 821.6,534.8 826.9,537.3 834.2,532.0 839.5,529.3 844.7,528.5 847.9,532.0 851.0,531.4 854.2,526.4 860.5,534.8 862.6,534.6" fill="none" stroke="#ff8a1e" stroke-width="1.2"/>
<path d="M951.5 517 V547 M0 546.5 H951" stroke="#333" stroke-width="1" fill="none"/>
<path d="M951 521.5 H955 M951 533.5 H955" stroke="#333" stroke-width="1"/>
<text x="957.5" y="526.8" font-size="12.5" fill="#555" textLength="37" lengthAdjust="spacingAndGlyphs" stroke="#555" stroke-width="0.2">80,00</text>
<rect x="955.5" y="524.5" width="50" height="19" fill="#fff" stroke="#333" stroke-width="1"/>
<text x="957.5" y="539" font-size="12.5" fill="#ff7a00" textLength="37" lengthAdjust="spacingAndGlyphs">48,44</text>
<path d="M61.5 546 V550 M115.5 546 V550 M184.5 546 V550 M238.5 546 V550 M304.5 546 V550 M367.5 546 V550 M430.5 546 V550 M499.5 546 V550 M559.5 546 V550 M622.5 546 V550 M682.5 546 V550 M739.5 546 V550 M805.5 546 V550 M862.5 546 V550 M922.5 546 V550" stroke="#333" stroke-width="1"/>
<text x="30.7" y="565.5" font-size="12.5" fill="#555" textLength="57.0" lengthAdjust="spacingAndGlyphs" stroke="#555" stroke-width="0.2">fev 2023</text>
<text x="153.6" y="565.5" font-size="12.5" fill="#555" textLength="58.9" lengthAdjust="spacingAndGlyphs" stroke="#555" stroke-width="0.2">abr 2023</text>
<text x="273.4" y="565.5" font-size="12.5" fill="#555" textLength="58.4" lengthAdjust="spacingAndGlyphs" stroke="#555" stroke-width="0.2">jun 2023</text>
<text x="399.6" y="565.5" font-size="12.5" fill="#555" textLength="61.1" lengthAdjust="spacingAndGlyphs" stroke="#555" stroke-width="0.2">ago 2023</text>
<text x="528.8" y="565.5" font-size="12.5" fill="#555" textLength="58.4" lengthAdjust="spacingAndGlyphs" stroke="#555" stroke-width="0.2">out 2023</text>
<text x="652.1" y="565.5" font-size="12.5" fill="#555" textLength="59.6" lengthAdjust="spacingAndGlyphs" stroke="#555" stroke-width="0.2">dez 2023</text>
<text x="774.8" y="565.5" font-size="12.5" fill="#555" textLength="57.0" lengthAdjust="spacingAndGlyphs" stroke="#555" stroke-width="0.2">fev 2024</text>
<text x="892.0" y="565.5" font-size="12.5" fill="#555" textLength="58.7" lengthAdjust="spacingAndGlyphs" stroke="#555" stroke-width="0.2">abr 2024</text>
<text x="4" y="584.5" font-size="14" fill="#111" textLength="230" lengthAdjust="spacingAndGlyphs">IBOV - Diário - criado em 01/03/2024</text>
<text x="932.5" y="584.5" font-size="14" fill="#111" textLength="110" lengthAdjust="spacingAndGlyphs">© 2024 Broadcast</text>
<g transform="translate(1031,2)"><rect x="0.5" y="0.5" width="13" height="13" fill="#12aaf2" stroke="#111" stroke-width="1"/><rect x="3.5" y="3.5" width="7" height="7" fill="#fff"/><path d="M7 3.5 H3.5 V10.5 H10.5 V6" fill="none" stroke="#111" stroke-width="1"/><path d="M6.3 7.7 L9.6 4.4" stroke="#111" stroke-width="3.3"/><path d="M8 1 H13 V6 Z" fill="#12aaf2"/><path d="M7.5 1 V4.2 M10.3 6.5 H13" fill="none" stroke="#111" stroke-width="1"/><path d="M6.4 7.6 L11.8 2.2" stroke="#12aaf2" stroke-width="1.9"/></g>
<g transform="translate(1031,439)"><rect x="0.5" y="0.5" width="13" height="13" fill="#12aaf2" stroke="#111" stroke-width="1"/><rect x="3.5" y="3.5" width="7" height="7" fill="#fff"/><path d="M7 3.5 H3.5 V10.5 H10.5 V6" fill="none" stroke="#111" stroke-width="1"/><path d="M6.3 7.7 L9.6 4.4" stroke="#111" stroke-width="3.3"/><path d="M8 1 H13 V6 Z" fill="#12aaf2"/><path d="M7.5 1 V4.2 M10.3 6.5 H13" fill="none" stroke="#111" stroke-width="1"/><path d="M6.4 7.6 L11.8 2.2" stroke="#12aaf2" stroke-width="1.9"/></g>
<g transform="translate(1031,501)"><rect x="0.5" y="0.5" width="13" height="13" fill="#12aaf2" stroke="#111" stroke-width="1"/><rect x="3.5" y="3.5" width="7" height="7" fill="#fff"/><path d="M7 3.5 H3.5 V10.5 H10.5 V6" fill="none" stroke="#111" stroke-width="1"/><path d="M6.3 7.7 L9.6 4.4" stroke="#111" stroke-width="3.3"/><path d="M8 1 H13 V6 Z" fill="#12aaf2"/><path d="M7.5 1 V4.2 M10.3 6.5 H13" fill="none" stroke="#111" stroke-width="1"/><path d="M6.4 7.6 L11.8 2.2" stroke="#12aaf2" stroke-width="1.9"/></g>
<path d="M1017 7.2 L1020 4.2 L1023 7.2 M1017 11 L1020 14 L1023 11" fill="none" stroke="#111" stroke-width="3.4"/>
<path d="M1017 7.2 L1020 4.2 L1023 7.2 M1017 11 L1020 14 L1023 11" fill="none" stroke="#12aaf2" stroke-width="1.8"/>
<path d="M4.6 4.6 L7.8 6.6 L11.4 4.6 L11.4 10.8 L7.8 14.2 L4.6 10.8 Z" fill="#12aaf2" stroke="#111" stroke-width="1"/>
</svg>
</body></html>
